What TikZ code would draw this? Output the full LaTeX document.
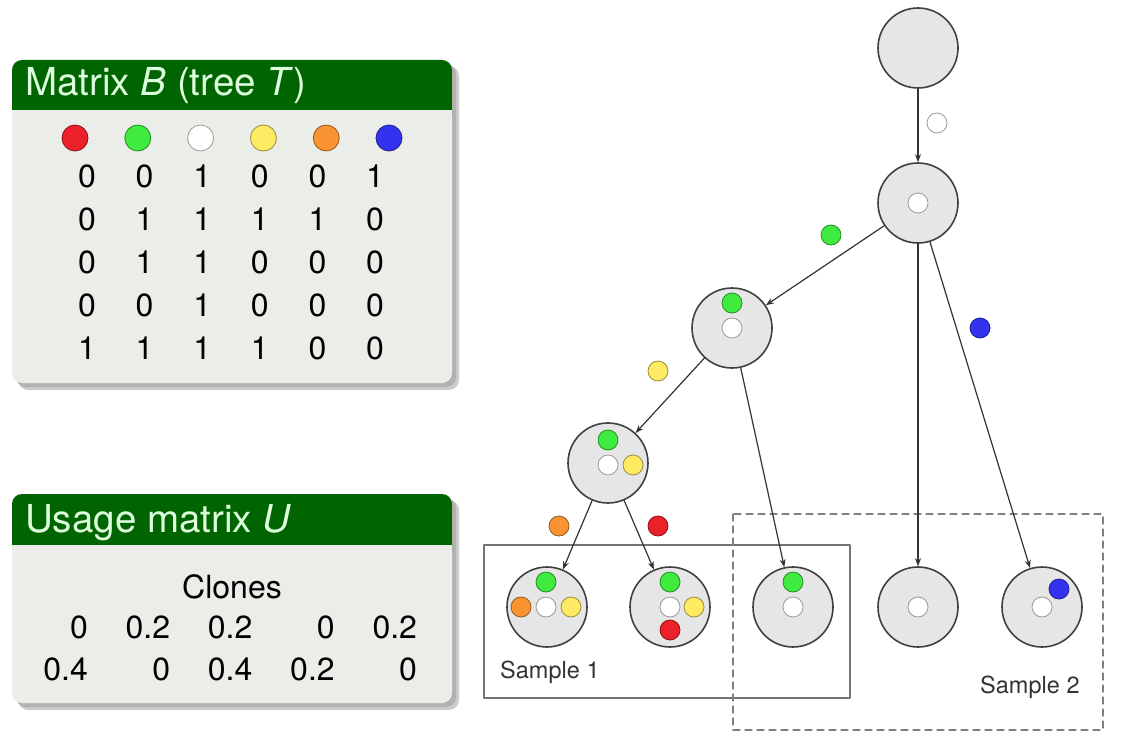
\documentclass[tikz,border=0pt]{standalone}
\usepackage{fontspec}
\setmainfont{TeX Gyre Heros}
\usetikzlibrary{arrows.meta}
\definecolor{blockgreen}{RGB}{0,100,0}
\definecolor{blocktitle}{RGB}{222,255,222}
\definecolor{blockbody}{RGB}{235,237,233}
\definecolor{cellgray}{RGB}{230,230,230}
\definecolor{mred}{RGB}{235,32,40}
\definecolor{mgreen}{RGB}{62,235,62}
\definecolor{myellow}{RGB}{255,234,100}
\definecolor{morange}{RGB}{250,148,50}
\definecolor{mblue}{RGB}{50,50,240}
\begin{document}
\begin{tikzpicture}[x=1pt,y=-1pt,>={Stealth[length=8pt,width=6pt]}, line join=round, line cap=round,
  clone/.style={circle,draw=black!75,line width=1.6pt,fill=cellgray,minimum size=80pt,inner sep=0pt},
  mut/.style={circle,draw=#1!60!black,line width=0.8pt,fill=#1,minimum size=20pt,inner sep=0pt},
  bigmut/.style={mut=#1,minimum size=26pt},
  edge/.style={->,line width=1.2pt,draw=black!80},
  num/.style={font=\fontsize{32}{36}\selectfont,anchor=base,inner sep=0pt},
  title/.style={font=\fontsize{38.5}{42}\selectfont,text=blocktitle,anchor=base west,inner sep=0pt},
  samplelbl/.style={font=\fontsize{23.5}{26}\selectfont,text=black!80,anchor=base west,inner sep=0pt}]
\useasboundingbox (0,0) rectangle (1134,738);
%	\draw[color=gray!50,dashed] (0,0) grid[step=50] (1134,738);
% block: matrix B
\fill[black!20,rounded corners=10pt] (18,66) rectangle (459,390);
\fill[black!30,rounded corners=10pt] (16,64) rectangle (456,387);
\fill[blockbody,rounded corners=10pt] (12,60) rectangle (452,383);
\fill[blockgreen,rounded corners=10pt] (12,60) rectangle (452,125);
\fill[blockbody] (12,110) rectangle (452,126);
\node[title] (titleB) at (25,96) {Matrix \textit{B} (tree \textit{T})};
\foreach \c [count=\j] in {mred,mgreen,white,myellow,morange,mblue}
  \node[bigmut=\c] (head\j) at ({75+62.8*(\j-1)},138) {};
\foreach \row [count=\i] in {{0,0,1,0,0,1},{0,1,1,1,1,0},{0,1,1,0,0,0},{0,0,1,0,0,0},{1,1,1,1,0,0}}
  \foreach \v [count=\j] in \row
    \node[num] (b\i\j) at ({87+57.6*(\j-1)},{187+43*(\i-1)}) {\v};
% block: usage matrix U
\fill[black!20,rounded corners=10pt] (18,500) rectangle (459,710);
\fill[black!30,rounded corners=10pt] (16,498) rectangle (456,707);
\fill[blockbody,rounded corners=10pt] (12,494) rectangle (452,703);
\fill[blockgreen,rounded corners=10pt] (12,494) rectangle (452,560);
\fill[blockbody] (12,545) rectangle (452,561);
\node[title] (titleU) at (25,532) {Usage matrix \textit{U}};
\node[num] (clones) at (232,598) {Clones};
\foreach \v [count=\j] in {0,0.2,0.2,0,0.2}
  \node[num,anchor=base east] (u1\j) at ({88+82.3*(\j-1)},638) {\v};
\foreach \v [count=\j] in {0.4,0,0.4,0.2,0}
  \node[num,anchor=base east] (u2\j) at ({88+82.3*(\j-1)},680) {\v};
% samples
\draw[black!55,line width=1.1pt] (484,545) rectangle (850,698);
\draw[black!50,line width=1.1pt,dashed,dash pattern=on 7pt off 5pt] (733,514) rectangle (1103,730);
\node[samplelbl] (s1) at (500,678) {Sample 1};
\node[samplelbl] (s2) at (980,693) {Sample 2};
% tree
\node[clone] (root) at (918,48) {};
\node[clone] (cw) at (918,203) {};
\node[clone] (cg) at (732,328) {};
\node[clone] (cy) at (608,463) {};
\node[clone] (leafo) at (547,607) {};
\node[clone] (leafr) at (670,607) {};
\node[clone] (leafg) at (793,607) {};
\node[clone] (leafw) at (918,607) {};
\node[clone] (leafb) at (1042,607) {};
\draw[edge] (root) -- (cw);
\draw[edge] (cw) -- (cg);
\draw[edge] (cw) -- (leafw);
\draw[edge] (cw) -- (leafb);
\draw[edge] (cg) -- (cy);
\draw[edge] (cg) -- (leafg);
\draw[edge] (cy) -- (leafo);
\draw[edge] (cy) -- (leafr);
% mutations on the edges
\node[mut=white] (lw) at (937,123) {};
\node[mut=mgreen] (lg) at (831,235) {};
\node[mut=mblue] (lb) at (980,328) {};
\node[mut=myellow] (ly) at (658,371) {};
\node[mut=morange] (lo) at (559,526) {};
\node[mut=mred] (lr) at (658,526) {};
% mutations inside the clones
\node[mut=white] at (918,203) {};
\node[mut=mgreen] at (732,303) {};
\node[mut=white] at (732,328) {};
\node[mut=mgreen] at (608,440) {};
\node[mut=white] at (608,465) {};
\node[mut=myellow] at (633,465) {};
\node[mut=mgreen] at (546,582) {};
\node[mut=morange] at (521,607) {};
\node[mut=white] at (546,607) {};
\node[mut=myellow] at (571,607) {};
\node[mut=mgreen] at (670,582) {};
\node[mut=white] at (670,607) {};
\node[mut=myellow] at (694,607) {};
\node[mut=mred] at (670,630) {};
\node[mut=mgreen] at (793,582) {};
\node[mut=white] at (793,607) {};
\node[mut=white] at (918,607) {};
\node[mut=white] at (1042,607) {};
\node[mut=mblue] at (1059,589) {};
\end{tikzpicture}
\end{document}
